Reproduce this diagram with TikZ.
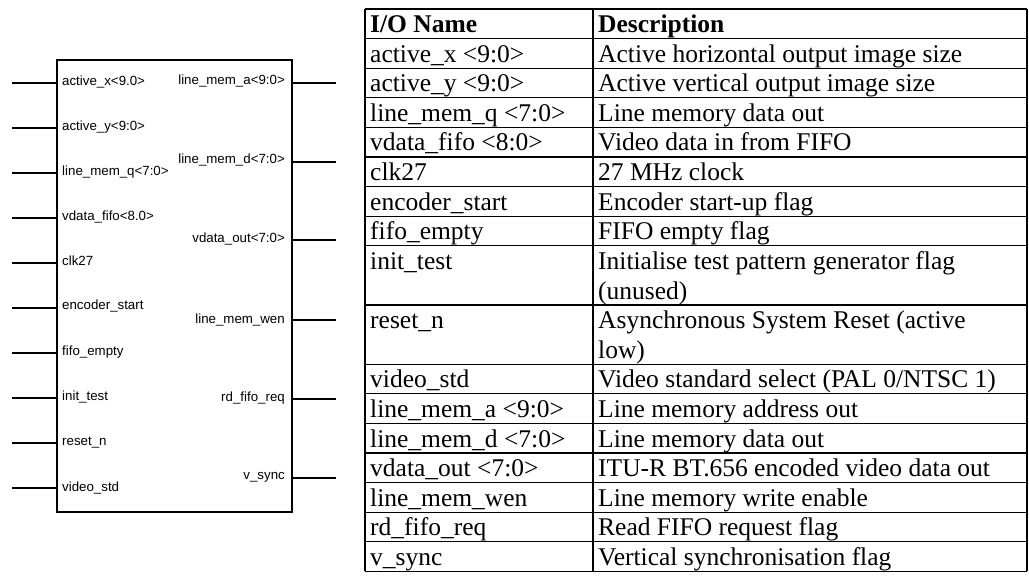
\documentclass[tikz,border=0pt]{standalone}
\usepackage{fontspec}
\setmainfont{Liberation Serif}
\newfontfamily\pinfont{Liberation Sans}
\begin{document}
\begin{tikzpicture}[x=1pt,y=-1pt,
  pinline/.style={line width=1.1pt},
  boxline/.style={draw, line width=1.3pt, inner sep=0pt},
  gridline/.style={line width=1.2pt},
  pinlbl/.style={font=\pinfont\fontsize{13.3}{15}\selectfont, inner sep=0pt},
  cell/.style={font=\fontsize{25.5}{29.6}\selectfont, inner sep=0pt, anchor=base west},
  head/.style={cell, font=\fontsize{25.5}{29.6}\selectfont\bfseries}]
\useasboundingbox (0,0) rectangle (1029,583);

% ---------------- block symbol ----------------
\node[boxline, minimum width=235pt, minimum height=452pt] (blk) at (174.5,286) {};

% left pins
\foreach \i/\yy in {1/83,2/128,3/173,4/218,5/263,6/308,7/353,8/398,9/443,10/488}{
  \coordinate (pl\i) at (12,\yy);
  \draw[pinline] (pl\i) -- (pl\i -| blk.west);
}
\node[pinlbl, anchor=mid west] (ll1) at (62,83) {active\_x<9.0>};
\node[pinlbl, anchor=mid west] (ll2) at (62,128) {active\_y<9:0>};
\node[pinlbl, anchor=mid west] (ll3) at (62,173) {line\_mem\_q<7:0>};
\node[pinlbl, anchor=mid west] (ll4) at (62,218) {vdata\_fifo<8.0>};
\node[pinlbl, anchor=mid west] (ll5) at (62,263) {clk27};
\node[pinlbl, anchor=mid west] (ll6) at (62,307) {encoder\_start};
\node[pinlbl, anchor=mid west] (ll7) at (62,353) {fifo\_empty};
\node[pinlbl, anchor=mid west] (ll8) at (62,398) {init\_test};
\node[pinlbl, anchor=mid west] (ll9) at (62,443) {reset\_n};
\node[pinlbl, anchor=mid west] (ll10) at (62,489) {video\_std};

% right pins
\foreach \i/\yy in {1/83,2/162,3/240,4/320,5/399,6/478}{
  \coordinate (pr\i) at (336,\yy);
  \draw[pinline] (pr\i -| blk.east) -- (pr\i);
}
\node[pinlbl, anchor=mid east] (rl1) at (285,82) {line\_mem\_a<9:0>};
\node[pinlbl, anchor=mid east] (rl2) at (285,161) {line\_mem\_d<7:0>};
\node[pinlbl, anchor=mid east] (rl3) at (285,240) {vdata\_out<7:0>};
\node[pinlbl, anchor=mid east] (rl4) at (285,321) {line\_mem\_wen};
\node[pinlbl, anchor=mid east] (rl5) at (285,399) {rd\_fifo\_req};
\node[pinlbl, anchor=mid east] (rl6) at (285,477) {v\_sync};

% ---------------- table ----------------
\foreach \k in {0,...,8,10,12,13,14,15,16,17,18,19}{
  \draw[gridline] (365,{9+29.6*\k}) -- (1027,{9+29.6*\k});
}
\foreach \xx in {365,593,1027}{
  \draw[gridline] (\xx,9) -- (\xx,571.4);
}

\node[head] (h1) at (370,32.6) {I/O Name};
\node[head] (h2) at (598,32.6) {Description};

\node[cell] (n1) at (370,62.2) {active\_x <9:0>};
\node[cell] (d1) at (598,62.2) {Active horizontal output image size};
\node[cell] (n2) at (370,91.8) {active\_y <9:0>};
\node[cell] (d2) at (598,91.8) {Active vertical output image size};
\node[cell] (n3) at (370,121.4) {line\_mem\_q <7:0>};
\node[cell] (d3) at (598,121.4) {Line memory data out};
\node[cell] (n4) at (370,151) {vdata\_fifo <8:0>};
\node[cell] (d4) at (598,151) {Video data in from FIFO};
\node[cell] (n5) at (370,180.6) {clk27};
\node[cell] (d5) at (598,180.6) {27 MHz clock};
\node[cell] (n6) at (370,210.2) {encoder\_start};
\node[cell] (d6) at (598,210.2) {Encoder start-up flag};
\node[cell] (n7) at (370,239.8) {fifo\_empty};
\node[cell] (d7) at (598,239.8) {FIFO empty flag};
\node[cell] (n8) at (370,269.4) {init\_test};
\node[cell] (d8) at (598,269.4) {Initialise test pattern generator flag};
\node[cell] (d8b) at (598,299) {(unused)};
\node[cell] (n9) at (370,328.6) {reset\_n};
\node[cell] (d9) at (598,328.6) {Asynchronous System Reset (active};
\node[cell] (d9b) at (598,358.2) {low)};
\node[cell] (n10) at (370,387.8) {video\_std};
\node[cell] (d10) at (598,387.8) {Video standard select (PAL 0/NTSC 1)};
\node[cell] (n11) at (370,417.4) {line\_mem\_a <9:0>};
\node[cell] (d11) at (598,417.4) {Line memory address out};
\node[cell] (n12) at (370,447) {line\_mem\_d <7:0>};
\node[cell] (d12) at (598,447) {Line memory data out};
\node[cell] (n13) at (370,476.6) {vdata\_out <7:0>};
\node[cell] (d13) at (598,476.6) {ITU-R BT.656 encoded video data out};
\node[cell] (n14) at (370,506.2) {line\_mem\_wen};
\node[cell] (d14) at (598,506.2) {Line memory write enable};
\node[cell] (n15) at (370,535.8) {rd\_fifo\_req};
\node[cell] (d15) at (598,535.8) {Read FIFO request flag};
\node[cell] (n16) at (370,565.4) {v\_sync};
\node[cell] (d16) at (598,565.4) {Vertical synchronisation flag};
\end{tikzpicture}
\end{document}
